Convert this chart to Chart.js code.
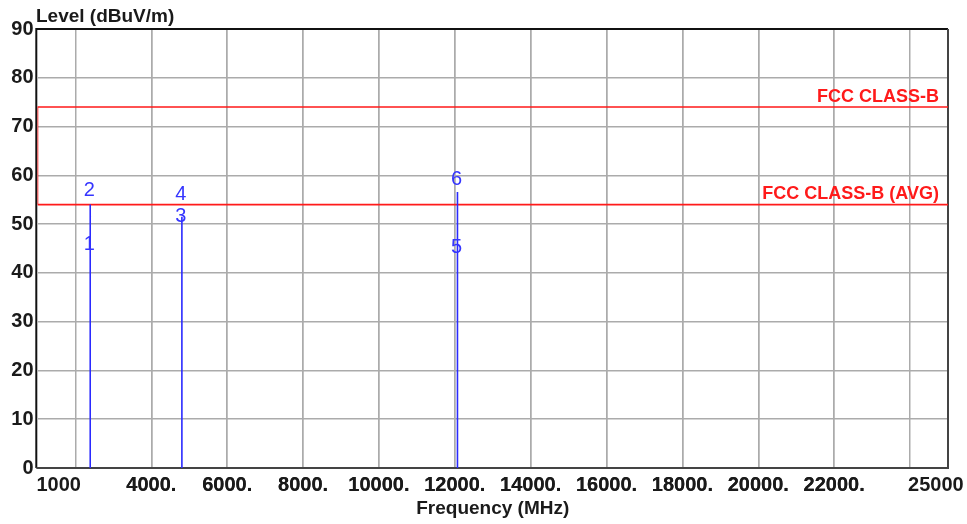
<!DOCTYPE html>
<html>
<head>
<meta charset="utf-8">
<script src="https://cdn.jsdelivr.net/npm/chart.js@4.4.1/dist/chart.umd.min.js"></script>
<style>
  html, body { margin: 0; padding: 0; background: #fff; }
</style>
</head>
<body>
<canvas id="chart" width="967" height="524"></canvas>
<script>
// Frequency axis (MHz)
const xMin = 1000;
const xMax = 25000;
const xGridValues = [2000, 4000, 6000, 8000, 10000, 12000, 14000, 16000, 18000, 20000, 22000, 24000];
// label anchors (end labels sit inside the plot edges like the original)
const xLabelValues = [1560, 4000, 6000, 8000, 10000, 12000, 14000, 16000, 18000, 20000, 22000, 24680];
const xLabelTexts = ['1000', '4000.', '6000.', '8000.', '10000.', '12000.', '14000.', '16000.', '18000.', '20000.', '22000.', '25000'];

// Level axis (dBuV/m)
const yMin = 0;
const yMax = 90;
const yStep = 10;

// Spectrum spikes
const spikeFreqs = [2390, 4806, 12070];
const spikeLevels = [54.0, 51.5, 56.6];

// Markers
const markerIds = ['1', '2', '3', '4', '5', '6'];
const markerFreqs = [2390, 2390, 4806, 4806, 12070, 12070];
const markerLevels = [44.6, 55.7, 50.4, 54.8, 43.9, 58.0];

// Limit lines
const limitNames = ['FCC CLASS-B', 'FCC CLASS-B (AVG)'];
const limitLevels = [74, 54];

// Build the trace as vertical strokes separated by gaps
const tracePoints = [];
spikeFreqs.forEach((f, i) => {
    tracePoints.push({ x: f, y: 0 });
    tracePoints.push({ x: f, y: spikeLevels[i] });
    tracePoints.push({ x: f, y: null });
});

const FONT = '"Liberation Sans", Arial, sans-serif';

// Frame around the plot area, under the data
const framePlugin = {
    id: 'frame',
    beforeDatasetsDraw(chart) {
        const { ctx, chartArea: a } = chart;
        ctx.save();
        ctx.lineWidth = 2;
        ctx.strokeStyle = '#111';
        ctx.beginPath();
        ctx.moveTo(a.left - 1.2, a.bottom);
        ctx.lineTo(a.left - 1.2, a.top);
        ctx.lineTo(a.right, a.top);
        ctx.stroke();
        ctx.strokeStyle = '#444';
        ctx.beginPath();
        ctx.moveTo(a.right, a.top);
        ctx.lineTo(a.right, a.bottom);
        ctx.lineTo(a.left - 1.2, a.bottom);
        ctx.stroke();
        ctx.restore();
    }
};

// Axis titles, limit names and marker numbers
const textPlugin = {
    id: 'texts',
    afterDatasetsDraw(chart) {
        const { ctx, chartArea: a, scales } = chart;
        const xs = scales.x, ys = scales.y;
        ctx.save();

        ctx.fillStyle = '#1a1a1a';
        ctx.font = 'bold 19px ' + FONT;
        ctx.textBaseline = 'alphabetic';
        ctx.textAlign = 'left';
        ctx.fillText('Level (dBuV/m)', a.left - 1.5, 21.5);
        ctx.textAlign = 'center';
        ctx.fillText('Frequency (MHz)', (a.left + a.right) / 2, 514);

        ctx.fillStyle = '#ff1a1a';
        ctx.font = 'bold 18px ' + FONT;
        ctx.textAlign = 'right';
        limitNames.forEach((name, i) => {
            ctx.fillText(name, a.right - 9, ys.getPixelForValue(limitLevels[i]) - 5.5);
        });

        ctx.fillStyle = '#3535ff';
        ctx.font = '20px ' + FONT;
        ctx.textAlign = 'center';
        ctx.textBaseline = 'middle';
        markerIds.forEach((id, i) => {
            ctx.fillText(id, xs.getPixelForValue(markerFreqs[i]) - 1, ys.getPixelForValue(markerLevels[i]) - 6);
        });
        ctx.restore();
    }
};

new Chart(document.getElementById('chart'), {
    type: 'line',
    data: {
        datasets: [
            {
                label: 'Trace',
                data: tracePoints,
                borderColor: '#2a2aff',
                borderWidth: 1.6,
                pointRadius: 0,
                spanGaps: false,
                tension: 0
            },
            {
                label: limitNames[0],
                data: [{ x: xMin, y: limitLevels[1] }, { x: xMin, y: limitLevels[0] }, { x: xMax, y: limitLevels[0] }],
                borderColor: '#ff1a1a',
                borderWidth: 1.6,
                pointRadius: 0,
                tension: 0
            },
            {
                label: limitNames[1],
                data: [{ x: xMin, y: limitLevels[1] }, { x: xMax, y: limitLevels[1] }],
                borderColor: '#ff1a1a',
                borderWidth: 1.6,
                pointRadius: 0,
                tension: 0
            }
        ]
    },
    options: {
        responsive: false,
        animation: false,
        devicePixelRatio: 1,
        layout: { padding: { top: 29, right: 19, left: 0, bottom: 0 } },
        plugins: {
            legend: { display: false },
            tooltip: { enabled: false },
            title: { display: false }
        },
        scales: {
            x: {
                type: 'linear',
                min: xMin,
                max: xMax,
                afterBuildTicks(scale) {
                    const vals = xGridValues.concat(xLabelValues).sort((p, q) => p - q);
                    scale.ticks = vals.map(v => ({ value: v }));
                },
                afterFit(scale) {
                    scale.height = 56;
                    scale.paddingLeft = 0;
                    scale.paddingRight = 0;
                },
                border: { display: false },
                grid: {
                    drawTicks: false,
                    lineWidth: 1.5,
                    color: c => (c.tick && xGridValues.includes(c.tick.value)) ? '#ababab' : 'rgba(0,0,0,0)'
                },
                ticks: {
                    autoSkip: false,
                    maxRotation: 0,
                    padding: 5,
                    color: '#1a1a1a',
                    font: { family: FONT, size: 20, weight: 'bold' },
                    callback(value) {
                        const i = xLabelValues.indexOf(value);
                        return i >= 0 ? xLabelTexts[i] : '';
                    }
                }
            },
            y: {
                type: 'linear',
                min: yMin,
                max: yMax,
                afterFit(scale) { scale.width = 37.5; },
                border: { display: false },
                grid: {
                    drawTicks: false,
                    lineWidth: 1.5,
                    color: c => (c.tick && (c.tick.value === yMin || c.tick.value === yMax)) ? 'rgba(0,0,0,0)' : '#ababab'
                },
                ticks: {
                    stepSize: yStep,
                    padding: 4,
                    color: '#1a1a1a',
                    font: { family: FONT, size: 20, weight: 'bold' }
                }
            }
        }
    },
    plugins: [framePlugin, textPlugin]
});
</script>
</body>
</html>
